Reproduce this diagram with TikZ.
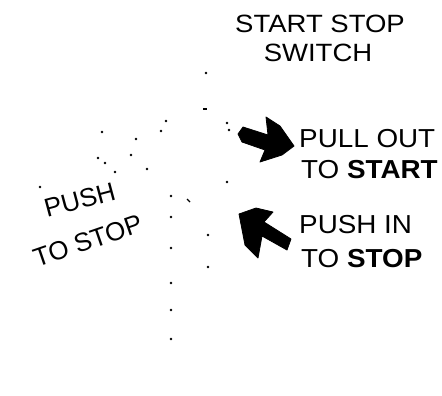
\documentclass[tikz,border=0pt]{standalone}
\usepackage{fontspec}
\newfontfamily\arialfont{Liberation Sans}
\begin{document}
\begin{tikzpicture}[x=1pt,y=-1pt,
  lbl/.style={inner sep=0pt, anchor=base west, font=\arialfont\fontsize{26}{30}\selectfont, xscale=1.07},
  title/.style={inner sep=0pt, anchor=base, font=\arialfont\fontsize{25}{30}\selectfont, xscale=1.1},
  slant/.style={inner sep=0pt, anchor=base west, font=\arialfont\fontsize{26}{30}\selectfont},
  arrowshape/.style={fill=black, draw=black, line width=0.8pt, line join=round},
  dot/.style={fill=black}]
\useasboundingbox (0,0) rectangle (442,396);
% title
\node[title] (t1) at (320,33) {START STOP};
\node[title] (t2) at (318,62) {SWITCH};
% right labels
\node[lbl] (p1) at (299,147) {PULL OUT};
\node[lbl] (p2) at (301,178) {TO \textbf{START}};
\node[lbl] (q1) at (299,233) {PUSH IN};
\node[lbl] (q2) at (301,267) {TO \textbf{STOP}};
% rotated labels
\node[slant, rotate=15] (r1) at (47,218) {PUSH};
\node[slant, rotate=19] (r2) at (37,268) {TO STOP};
% pull-out arrow
\fill[arrowshape] (238,134) -- (243,127) -- (268,135) -- (266,117) -- (280,126) -- (294,146)
  -- (282,155) -- (260,162) -- (265,150) -- (242,142) -- cycle;
% push-in arrow
\fill[arrowshape] (239,214) -- (256,208) -- (273,212) -- (264,222) -- (291,239) -- (287,250)
  -- (262,236) -- (258,258) -- (245,245) -- cycle;
% dots
\foreach \p in {(206,73),(166,121),(161,131),(102,132),(136,139),(98,158),(105,163),(131,155),
  (115,172),(147,169),(40,187),(227,123),(229,130),(227,182),(171,196),(171,217),(208,235),
  (171,248),(208,267),(171,283),(171,310),(171,339)}
  \fill[dot] \p circle (1.4);
\draw[line width=1.4pt] (203,109) -- (207,109);
\draw[line width=1.3pt] (187,199) -- (190,202);
\end{tikzpicture}
\end{document}
